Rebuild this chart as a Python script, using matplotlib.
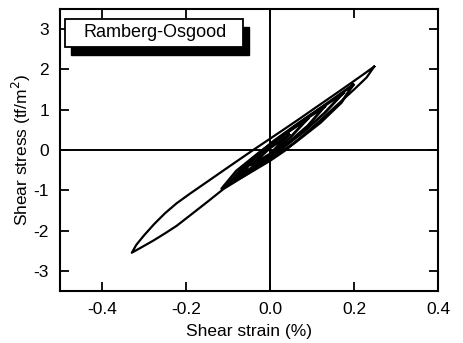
import matplotlib
matplotlib.use("Agg")
import matplotlib.pyplot as plt
from matplotlib.patches import Rectangle

plt.rcParams['font.family'] = ['Liberation Sans', 'DejaVu Sans']
plt.rcParams['axes.unicode_minus'] = False

# outer loop, upper branch then lower branch
outer_upper_x = [0.248, 0.22, 0.19, 0.15, 0.111, 0.071, 0.03, 0.0, -0.04, -0.10,
                 -0.147, -0.19, -0.222, -0.25, -0.275, -0.30, -0.318, -0.329]
outer_upper_y = [2.07, 1.86, 1.64, 1.35, 1.07, 0.78, 0.49, 0.28, 0.0, -0.43,
                 -0.77, -1.08, -1.32, -1.57, -1.83, -2.12, -2.35, -2.55]
outer_lower_x = [-0.329, -0.305, -0.278, -0.25, -0.222, -0.185, -0.147, -0.111,
                 -0.06, 0.0, 0.038, 0.08, 0.12, 0.16, 0.20, 0.23, 0.248]
outer_lower_y = [-2.55, -2.41, -2.25, -2.07, -1.88, -1.58, -1.27, -0.97,
                 -0.64, -0.27, 0.0, 0.37, 0.74, 1.12, 1.50, 1.80, 2.07]

# inner loops
loopA_upper_x = [0.198, 0.15, 0.09, 0.03, -0.03, -0.08, -0.115]
loopA_upper_y = [1.62, 1.26, 0.82, 0.37, -0.10, -0.52, -0.96]
loopA_lower_x = [-0.115, -0.06, 0.0, 0.06, 0.12, 0.17, 0.198]
loopA_lower_y = [-0.96, -0.63, -0.24, 0.19, 0.68, 1.18, 1.62]

loopB_upper_x = [0.175, 0.13, 0.07, 0.01, -0.04, -0.085]
loopB_upper_y = [1.42, 1.10, 0.68, 0.23, -0.20, -0.75]
loopB_lower_x = [-0.085, -0.04, 0.02, 0.08, 0.13, 0.175]
loopB_lower_y = [-0.75, -0.46, -0.03, 0.45, 0.92, 1.42]

loopE_upper_x = [0.13, 0.09, 0.04, -0.01, -0.06, -0.10]
loopE_upper_y = [1.08, 0.80, 0.43, 0.05, -0.38, -0.86]
loopE_lower_x = [-0.10, -0.05, 0.0, 0.05, 0.09, 0.13]
loopE_lower_y = [-0.86, -0.52, -0.16, 0.24, 0.60, 1.08]

loopC_upper_x = [0.09, 0.05, 0.0, -0.04, -0.07]
loopC_upper_y = [0.78, 0.50, 0.12, -0.25, -0.62]
loopC_lower_x = [-0.07, -0.03, 0.01, 0.05, 0.09]
loopC_lower_y = [-0.62, -0.35, -0.05, 0.33, 0.78]

loopD_upper_x = [0.045, 0.0, -0.045]
loopD_upper_y = [0.38, 0.05, -0.38]
loopD_lower_x = [-0.045, 0.0, 0.045]
loopD_lower_y = [-0.38, -0.10, 0.38]

outer_loop = (outer_upper_x, outer_upper_y, outer_lower_x, outer_lower_y)
inner_loops = [
    (loopA_upper_x, loopA_upper_y, loopA_lower_x, loopA_lower_y),
    (loopB_upper_x, loopB_upper_y, loopB_lower_x, loopB_lower_y),
    (loopE_upper_x, loopE_upper_y, loopE_lower_x, loopE_lower_y),
    (loopC_upper_x, loopC_upper_y, loopC_lower_x, loopC_lower_y),
    (loopD_upper_x, loopD_upper_y, loopD_lower_x, loopD_lower_y),
]

x_ticks = [-0.4, -0.2, 0.0, 0.2, 0.4]
x_ticklabels = ['-0.4', '-0.2', '0.0', '0.2', '0.4']
y_ticks = [-3, -2, -1, 0, 1, 2, 3]

fig = plt.figure(figsize=(4.64, 3.43), dpi=100)
ax = fig.add_axes([0.1293, 0.1516, 0.8147, 0.8222])

ux, uy, lx, ly = outer_loop
ax.plot(ux + lx, uy + ly, color='black', lw=1.6, solid_joinstyle='round')
for ux, uy, lx, ly in inner_loops:
    ax.plot(ux + lx, uy + ly, color='black', lw=2.0, solid_joinstyle='round')

ax.axhline(0, color='black', lw=1.4)
ax.axvline(0, color='black', lw=1.4)

ax.set_xlim(-0.5, 0.4)
ax.set_ylim(-3.5, 3.5)
ax.set_xticks(x_ticks)
ax.set_xticklabels(x_ticklabels)
ax.set_yticks(y_ticks)
ax.tick_params(direction='in', length=6.5, width=1.3, top=True, right=True,
               labelsize=12.5, pad=8)
for s in ax.spines.values():
    s.set_linewidth(1.5)

ax.set_xlabel('Shear strain (%)', fontsize=12.5, labelpad=5)
ax.set_ylabel('Shear stress (tf/m$^2$)', fontsize=12.5, labelpad=0)

# legend-like label box with a drop shadow
ax.add_patch(Rectangle((0.029, 0.837), 0.471, 0.1, transform=ax.transAxes,
                       facecolor='black', edgecolor='black', zorder=5))
ax.add_patch(Rectangle((0.013, 0.865), 0.471, 0.1, transform=ax.transAxes,
                       facecolor='white', edgecolor='black', lw=1.3, zorder=6))
ax.text(0.252, 0.915, 'Ramberg-Osgood', transform=ax.transAxes, fontsize=13,
        ha='center', va='center', zorder=7)

fig.savefig('out.png', dpi=100)
